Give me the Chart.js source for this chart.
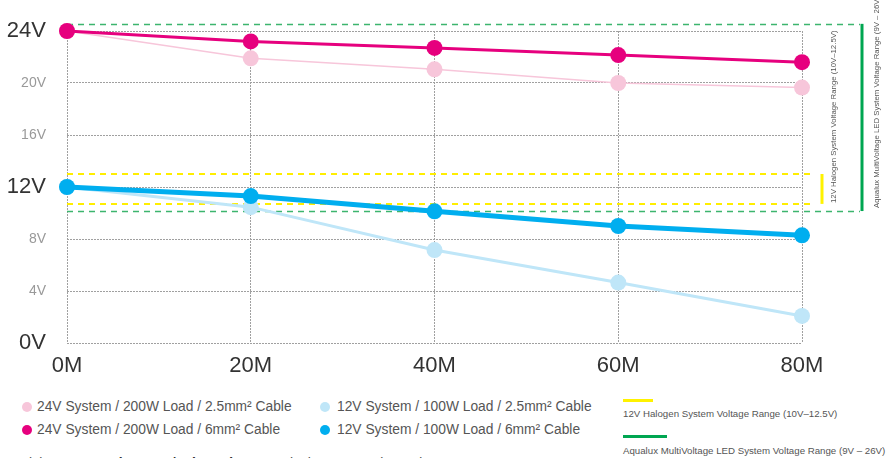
<!DOCTYPE html>
<html>
<head>
<meta charset="utf-8">
<script src="https://cdn.jsdelivr.net/npm/chart.js@4/dist/chart.umd.min.js"></script>
<style>
  html, body { margin: 0; padding: 0; background: #fff; }
  body { width: 887px; height: 458px; overflow: hidden; position: relative;
         font-family: "Liberation Sans", Arial, Helvetica, sans-serif; }
  #wrap { position: absolute; left: 0; top: 0; width: 887px; height: 385px; }
  #c { display: block; }
  .leg { position: absolute; font-size: 13.8px; color: #555; white-space: nowrap; line-height: 16px; }
  .dot { position: absolute; width: 10px; height: 10px; border-radius: 50%; }
  .bar { position: absolute; height: 3px; }
  .small { position: absolute; font-size: 9.7px; color: #555; white-space: nowrap; line-height: 12px; }
  .rot { position: absolute; font-size: 7.8px; color: #555; white-space: nowrap; line-height: 9px;
         transform-origin: 0 0; transform: rotate(-90deg); }
  #visit { position: absolute; left: 20px; top: 455px; font-size: 14px; line-height: 16px; color: #555; white-space: nowrap; }
  #visit b { color: #333; }
</style>
</head>
<body>
<div id="wrap"><canvas id="c" width="887" height="385"></canvas></div>

<div class="dot" style="left:22px;top:402px;background:#f7c6da"></div>
<div class="leg" style="left:37px;top:399px">24V System / 200W Load / 2.5mm² Cable</div>
<div class="dot" style="left:22px;top:425px;background:#e6007e"></div>
<div class="leg" style="left:37px;top:422px">24V System / 200W Load / 6mm² Cable</div>
<div class="dot" style="left:320px;top:402px;background:#bfe6f8"></div>
<div class="leg" style="left:337px;top:399px">12V System / 100W Load / 2.5mm² Cable</div>
<div class="dot" style="left:320px;top:425px;background:#00aeef"></div>
<div class="leg" style="left:337px;top:422px">12V System / 100W Load / 6mm² Cable</div>

<div class="bar" style="left:623px;top:399px;width:30px;background:#fff200"></div>
<div class="small" style="left:623px;top:408px">12V Halogen System Voltage Range (10V–12.5V)</div>
<div class="bar" style="left:623px;top:435px;width:44px;background:#00a651"></div>
<div class="small" style="left:623px;top:445px">Aqualux MultiVoltage LED System Voltage Range (9V – 26V)</div>

<div class="rot" style="left:829px;top:203px">12V Halogen System Voltage Range (10V–12.5V)</div>
<div class="rot" style="left:872px;top:208px">Aqualux MultiVoltage LED System Voltage Range (9V – 26V)</div>

<div id="visit">Visit <b>www.aqualux.com/voltagedrop</b> to calculate your voltage drop</div>

<script>
// Cable run length (metres)
const distances = ['0M', '20M', '40M', '60M', '80M'];

// Voltage at the fitting for each system / cable size
const v24_25mm = [24, 21.9, 21.05, 20.0, 19.65];
const v24_6mm  = [24, 23.2, 22.7, 22.15, 21.6];
const v12_25mm = [12, 10.45, 7.15, 4.65, 2.08];
const v12_6mm  = [12, 11.3, 10.13, 9.0, 8.28];

// Y-axis ticks (volts); the headline voltages are drawn larger
const yTicks = [0, 4, 8, 12, 16, 20, 24];
const majorTicks = [0, 12, 24];

// Supported voltage bands
const halogenBand = [10.7, 13.0];
const multiVoltBand = [10.15, 24.55];

const isMajor = ctx => !!(ctx && ctx.tick && majorTicks.includes(ctx.tick.value));

const bandsPlugin = {
  id: 'bands',
  beforeDatasetsDraw(chart) {
    const { ctx, chartArea, scales: { y } } = chart;
    ctx.save();
    // green dashed band edges
    ctx.strokeStyle = '#3cb56e';
    ctx.lineWidth = 1.3;
    ctx.setLineDash([6, 5]);
    multiVoltBand.forEach(v => {
      const py = Math.round(y.getPixelForValue(v)) + 0.5;
      ctx.beginPath(); ctx.moveTo(chartArea.left, py); ctx.lineTo(860, py); ctx.stroke();
    });
    // yellow dashed band edges
    ctx.strokeStyle = '#ffee00';
    ctx.lineWidth = 2;
    halogenBand.forEach(v => {
      const py = Math.round(y.getPixelForValue(v));
      ctx.beginPath(); ctx.moveTo(chartArea.left, py); ctx.lineTo(815, py); ctx.stroke();
    });
    ctx.setLineDash([]);
    // solid range bars on the right
    ctx.lineWidth = 3;
    ctx.strokeStyle = '#fff200';
    ctx.beginPath();
    ctx.moveTo(822, y.getPixelForValue(halogenBand[1]));
    ctx.lineTo(822, y.getPixelForValue(halogenBand[0]));
    ctx.stroke();
    ctx.strokeStyle = '#00a651';
    ctx.beginPath();
    ctx.moveTo(862, y.getPixelForValue(multiVoltBand[1]));
    ctx.lineTo(862, y.getPixelForValue(multiVoltBand[0]));
    ctx.stroke();
    ctx.restore();
  }
};

const mk = (label, data, color, width, order) => ({
  label, data,
  borderColor: color, backgroundColor: color,
  pointBackgroundColor: color, pointBorderWidth: 0,
  borderWidth: width, pointRadius: 8, pointHoverRadius: 8,
  tension: 0, clip: false, order
});

new Chart(document.getElementById('c'), {
  type: 'line',
  data: {
    labels: distances,
    datasets: [
      mk('24V System / 200W Load / 2.5mm² Cable', v24_25mm, '#f7c6da', 1.5, 4),
      mk('12V System / 100W Load / 2.5mm² Cable', v12_25mm, '#bfe6f8', 3, 3),
      mk('24V System / 200W Load / 6mm² Cable', v24_6mm, '#e6007e', 3, 2),
      mk('12V System / 100W Load / 6mm² Cable', v12_6mm, '#00aeef', 5, 1)
    ]
  },
  options: {
    responsive: false,
    animation: false,
    events: [],
    layout: { padding: { top: 31, right: 85, left: 0, bottom: 0 } },
    plugins: { legend: { display: false }, tooltip: { enabled: false } },
    scales: {
      x: {
        offset: false,
        grid: { color: '#a0a0a0', lineWidth: 1, drawTicks: false },
        border: { display: false, dash: [2, 1] },
        ticks: {
          padding: 10,
          color: '#333',
          maxRotation: 0,
          font: { family: '"Liberation Sans", Arial, sans-serif', size: 22 }
        },
        afterFit(s) { s.height = 42; s.paddingLeft = 0; s.paddingRight = 0; }
      },
      y: {
        min: 0, max: 24,
        afterBuildTicks(s) { s.ticks = yTicks.map(v => ({ value: v })); },
        grid: { color: '#a0a0a0', lineWidth: 1, drawTicks: false },
        border: { display: false, dash: [2, 1] },
        ticks: {
          padding: 21,
          callback: v => v + 'V',
          color: ctx => isMajor(ctx) ? '#333' : '#999',
          font: ctx => ({
            family: '"Liberation Sans", Arial, sans-serif',
            size: isMajor(ctx) ? 22 : 14
          })
        },
        afterFit(s) { s.width = 67; s.paddingTop = 0; s.paddingBottom = 0; }
      }
    }
  },
  plugins: [bandsPlugin]
});
</script>
</body>
</html>
